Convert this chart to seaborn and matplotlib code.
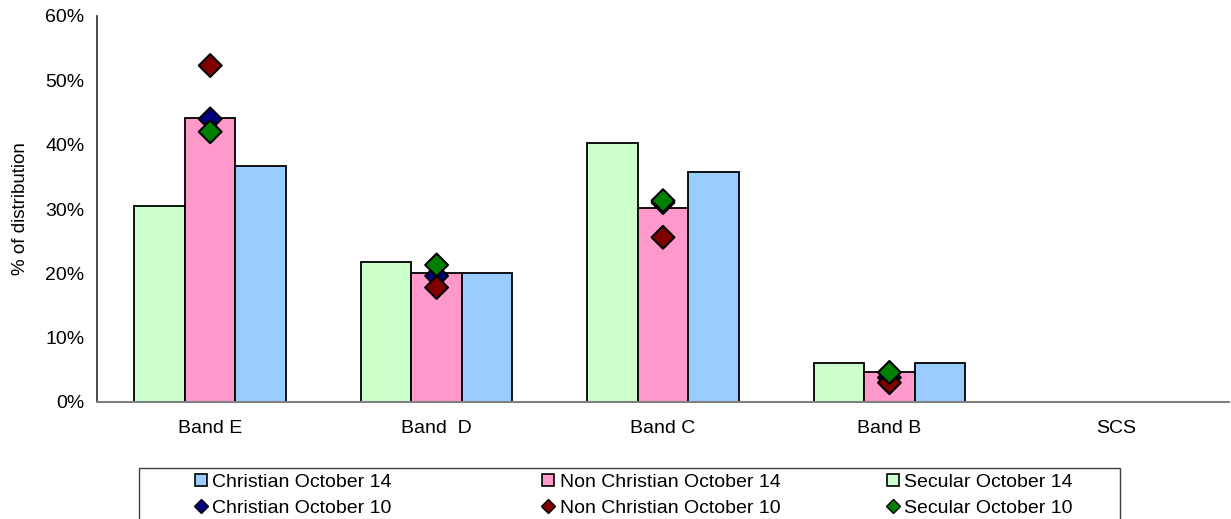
import matplotlib
matplotlib.use("Agg")
import matplotlib.pyplot as plt
import seaborn as sns
import pandas as pd
import numpy as np
from matplotlib.patches import Patch, Rectangle
from matplotlib.lines import Line2D
from matplotlib.ticker import PercentFormatter

# values in percent
bands = ["Band E", "Band  D", "Band C", "Band B", "SCS"]
secular_14 = [30.5, 21.8, 40.2, 6.0, 0.0]
non_christian_14 = [44.1, 20.1, 30.2, 4.6, 0.0]
christian_14 = [36.7, 20.0, 35.8, 6.0, 0.0]
christian_10 = [44.0, 19.6, 31.0, 3.8, np.nan]
non_christian_10 = [52.3, 17.8, 25.6, 3.0, np.nan]
secular_10 = [42.0, 21.3, 31.3, 4.6, np.nan]

bar_series = ["Secular October 14", "Non Christian October 14", "Christian October 14"]
bar_colors = ["#CCFFCC", "#FF99CC", "#99CCFF"]
pt_series = ["Christian October 10", "Non Christian October 10", "Secular October 10"]
pt_colors = ["#000080", "#800000", "#008000"]

df_bars = pd.DataFrame({
    "band": bands * 3,
    "series": np.repeat(bar_series, len(bands)),
    "value": secular_14 + non_christian_14 + christian_14,
})
df_pts = pd.DataFrame({
    "band": bands * 3,
    "series": np.repeat(pt_series, len(bands)),
    "value": christian_10 + non_christian_10 + secular_10,
}).dropna()

sns.set_theme(style="white")
plt.rcParams["font.family"] = ["Liberation Sans", "DejaVu Sans"]
plt.rcParams["text.color"] = "black"
plt.rcParams["xtick.color"] = "black"
plt.rcParams["ytick.color"] = "black"
plt.rcParams["axes.labelcolor"] = "black"

fig = plt.figure(figsize=(12.31, 5.19), dpi=100)
ax = fig.add_axes([97 / 1231, 1 - 402 / 519, 1132 / 1231, 386 / 519])

sns.barplot(data=df_bars, x="band", y="value", hue="series", hue_order=bar_series,
            palette=bar_colors, edgecolor="black", linewidth=1.3, width=0.67,
            saturation=1, legend=False, ax=ax)
sns.scatterplot(data=df_pts, x="band", y="value", hue="series", hue_order=pt_series,
                palette=pt_colors, marker="D", s=135, edgecolor="black",
                linewidth=1.5, legend=False, zorder=5, ax=ax)

ax.set_xlim(-0.5, 4.5)
ax.set_ylim(0, 60)
ax.set_yticks(np.arange(0, 61, 10))
ax.yaxis.set_major_formatter(PercentFormatter(100, decimals=0))
ax.set_xticks(np.arange(-0.5, 5, 1), minor=True)
ax.tick_params(axis="x", which="major", length=0, pad=13, labelsize=14, labelcolor="black")
ax.tick_params(axis="x", which="minor", length=5, direction="out", color="#555555", width=1)
ax.tick_params(axis="y", length=5, direction="out", color="#333333", width=1, pad=4,
               labelsize=14, labelcolor="black")
ax.set_xlabel("")
ax.set_ylabel("% of distribution", fontsize=13.5, labelpad=12, color="black")

for side in ["top", "right"]:
    ax.spines[side].set_visible(False)
ax.spines["left"].set_color("#333333")
ax.spines["bottom"].set_color("#808080")
ax.spines["bottom"].set_linewidth(1.5)

# legend frame
fig.add_artist(Rectangle((139 / 1231, -0.05), (1120 - 139) / 1231, 0.05 + 1 - 468 / 519,
                         transform=fig.transFigure, fill=False, edgecolor="#404040",
                         linewidth=1))

col_x = [195, 542, 887]
for i, (bs, bc) in enumerate(zip(bar_series[::-1], bar_colors[::-1])):
    ps, pc = pt_series[i], pt_colors[i]
    handles = [Patch(facecolor=bc, edgecolor="black", linewidth=1.2),
               Line2D([], [], linestyle="none", marker="D", markersize=7,
                      markerfacecolor=pc, markeredgecolor="black", markeredgewidth=1)]
    leg = fig.legend(handles=handles, labels=[bs, ps], loc="upper left",
                     bbox_to_anchor=(col_x[i] / 1231, 1 - 474 / 519),
                     frameon=False, borderpad=0, borderaxespad=0, fontsize=14,
                     handlelength=0.6, handleheight=0.6, handletextpad=0.3,
                     labelspacing=0.46, labelcolor="black")

fig.savefig("out.png", dpi=100)
